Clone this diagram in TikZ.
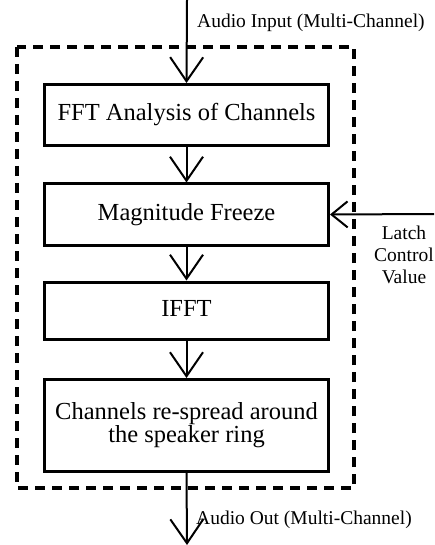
\documentclass[tikz,border=0pt]{standalone}
\usepackage{fontspec}
\setmainfont{Liberation Serif}
\usetikzlibrary{arrows.meta}
\tikzset{
  stage/.style={draw, line width=3pt, minimum width=284pt, inner sep=0pt,
    font=\fontsize{24.5}{23}\selectfont, align=center},
  oneline/.style={text height=17pt, text depth=5pt},
  flow/.style={line width=2pt, -{Straight Barb[length=24pt, width=33pt, line width=2pt]}},
  sideflow/.style={line width=2pt, -{Straight Barb[length=16pt, width=26pt, line width=2pt]}},
  lbl/.style={font=\fontsize{19.5}{21.7}\selectfont, inner sep=0pt},
}
\begin{document}
\begin{tikzpicture}[x=1pt,y=-1pt]
\useasboundingbox (0,0) rectangle (434,545);
% enclosing dashed frame
\draw[line width=3.5pt, dash pattern=on 10pt off 7pt] (17,47) rectangle (354,488);
% processing stages
\node[stage, oneline, minimum height=61pt] (fft) at (186.5,115) {FFT Analysis of Channels};
\node[stage, oneline, minimum height=61pt] (mag) at (186.5,214.5) {Magnitude Freeze};
\node[stage, oneline, minimum height=57pt] (ifft) at (186.5,310.5) {IFFT};
\node[stage, minimum height=92pt] (spread) at (186.5,425.5) {Channels re-spread around\\the speaker ring};
% external ends
\coordinate (in) at (187,0);
\coordinate (out) at (187,545);
\coordinate (latch) at (434,214);
% connectors
\draw[flow] (in) -- (fft.north);
\draw[flow] (fft) -- (mag);
\draw[flow] (mag) -- (ifft);
\draw[flow] (ifft) -- (spread);
\draw[flow] (spread.south) -- (out);
\draw[sideflow] (latch) -- (mag.east);
% labels
\node[lbl, anchor=base west] (inlbl) at (197,28) {Audio Input (Multi-Channel)};
\node[lbl, anchor=base west] (outlbl) at (196,524) {Audio Out (Multi-Channel)};
\node[lbl, align=center] (latchlbl) at (404,255) {Latch\\Control\\Value};
\end{tikzpicture}
\end{document}
